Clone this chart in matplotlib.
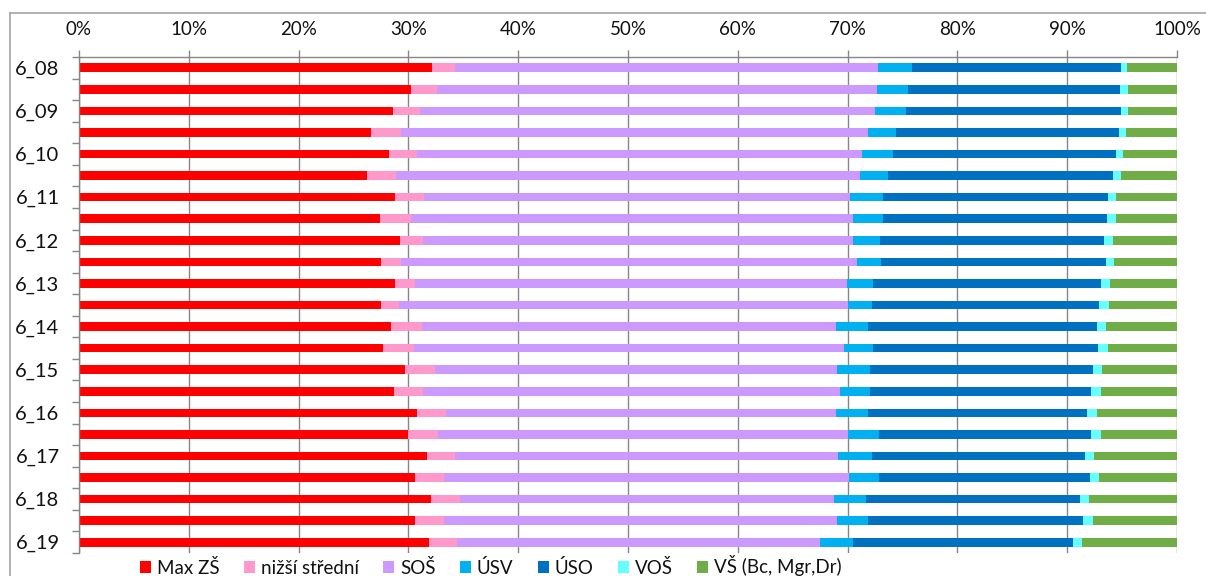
import matplotlib
matplotlib.use("Agg")
import matplotlib.pyplot as plt
from matplotlib.patches import Patch
from matplotlib.lines import Line2D
import numpy as np

# Period labels (only every other period is labelled on the axis)
periods = ["6_08", "", "6_09", "", "6_10", "", "6_11", "", "6_12", "", "6_13", "",
           "6_14", "", "6_15", "", "6_16", "", "6_17", "", "6_18", "", "6_19"]

# Share of each education level (%) per period
max_zs = [32.2, 30.2, 28.6, 26.6, 28.2, 26.2, 28.8, 27.4, 29.2, 27.5, 28.8, 27.5,
          28.4, 27.7, 29.7, 28.7, 30.8, 30.0, 31.7, 30.6, 32.1, 30.6, 31.8]
nizsi_stredni = [2.1, 2.4, 2.5, 2.7, 2.6, 2.7, 2.6, 2.8, 2.1, 1.8, 1.8, 1.7,
                 2.8, 2.8, 2.7, 2.7, 2.6, 2.7, 2.6, 2.7, 2.6, 2.7, 2.6]
sos = [38.5, 40.1, 41.5, 42.6, 40.5, 42.2, 38.8, 40.3, 39.1, 41.5, 39.4, 40.9,
       37.7, 39.2, 36.6, 38.0, 35.5, 37.4, 34.9, 36.9, 34.1, 35.8, 33.0]
usv = [3.1, 2.8, 2.8, 2.5, 2.8, 2.6, 3.0, 2.7, 2.5, 2.2, 2.4, 2.2,
       3.0, 2.7, 3.0, 2.7, 3.0, 2.8, 3.1, 2.7, 2.9, 2.8, 3.0]
uso = [19.1, 19.3, 19.6, 20.3, 20.3, 20.5, 20.5, 20.4, 20.4, 20.4, 20.8, 20.7,
       20.8, 20.5, 20.3, 20.2, 19.9, 19.4, 19.4, 19.3, 19.5, 19.6, 20.0]
vos = [0.5, 0.7, 0.6, 0.7, 0.7, 0.7, 0.7, 0.8, 0.8, 0.8, 0.8, 0.9,
       0.8, 0.9, 0.8, 0.9, 0.9, 0.9, 0.8, 0.8, 0.8, 0.9, 0.9]
vs = [4.6, 4.5, 4.5, 4.6, 4.9, 5.1, 5.6, 5.6, 5.8, 5.7, 6.1, 6.2,
      6.5, 6.3, 6.8, 6.9, 7.3, 6.9, 7.6, 7.1, 8.0, 7.7, 8.6]

series_names = ["Max ZŠ", "nižší střední", "SOŠ", "ÚSV", "ÚSO", "VOŠ", "VŠ (Bc, Mgr,Dr)"]
series_colors = ["#FF0000", "#FF99CC", "#CC99FF", "#00B0F0", "#0070C0", "#66FFFF", "#70AD47"]

plt.rcParams["font.family"] = ["Lato", "DejaVu Sans"]

W, H = 1206, 576
fig = plt.figure(figsize=(W / 100, H / 100), dpi=100)

x0, x1 = 79, 1177
y_top, y_bot = 57, 553
ax = fig.add_axes([x0 / W, 1 - y_bot / H, (x1 - x0) / W, (y_bot - y_top) / H])

data = np.array([max_zs, nizsi_stredni, sos, usv, uso, vos, vs], dtype=float)
shares = data / data.sum(axis=0) * 100.0  # 100 % stacked

n = len(periods)
ypos = np.arange(n)
left = np.zeros(n)
for vals, color in zip(shares, series_colors):
    ax.barh(ypos, vals, left=left, height=0.4, color=color, edgecolor="none", zorder=2)
    left += vals

ax.set_xlim(0, 100)
ax.set_ylim(n - 0.5, -0.5)

text_color = "#111111"

# Percent axis on top with vertical gridlines
ax.xaxis.tick_top()
ax.set_xticks(np.arange(0, 101, 10))
ax.set_xticklabels([f"{v}%" for v in range(0, 101, 10)], fontsize=13.5, color=text_color)
ax.tick_params(axis="x", which="major", direction="out", length=5, width=1,
               color="#868686", pad=9)
ax.grid(axis="x", color="#868686", linewidth=1, zorder=0)
ax.set_axisbelow(True)

# Category axis: labels at rows, tick marks at row boundaries
ax.set_yticks(ypos)
ax.set_yticklabels(periods, fontsize=14.5, color=text_color)
ax.tick_params(axis="y", which="major", length=0, pad=14)
ax.set_yticks(np.arange(-0.5, n, 1.0), minor=True)
ax.tick_params(axis="y", which="minor", direction="out", length=5, width=1, color="#868686")

for side in ("right", "bottom"):
    ax.spines[side].set_visible(False)
for side in ("top", "left"):
    ax.spines[side].set_color("#868686")
    ax.spines[side].set_linewidth(1)

# Legend along the bottom
handles = [Patch(facecolor=c, edgecolor="none") for c in series_colors]
fig.legend(handles, series_names, loc="center left", ncol=7,
           bbox_to_anchor=(140 / W, 1 - 566 / H), frameon=False,
           fontsize=13.5, handlelength=0.6, handleheight=0.6,
           handletextpad=0.3, columnspacing=1.3, borderpad=0, borderaxespad=0,
           labelcolor=text_color)

# Chart area border
border_color = "#A6A6A6"
fig.add_artist(Line2D([10 / W, 10 / W], [0, 1 - 13 / H], transform=fig.transFigure,
                      color=border_color, linewidth=1.2))
fig.add_artist(Line2D([10 / W, 1], [1 - 13 / H, 1 - 13 / H], transform=fig.transFigure,
                      color=border_color, linewidth=1.2))

fig.savefig("out.png", dpi=100, facecolor="white")
